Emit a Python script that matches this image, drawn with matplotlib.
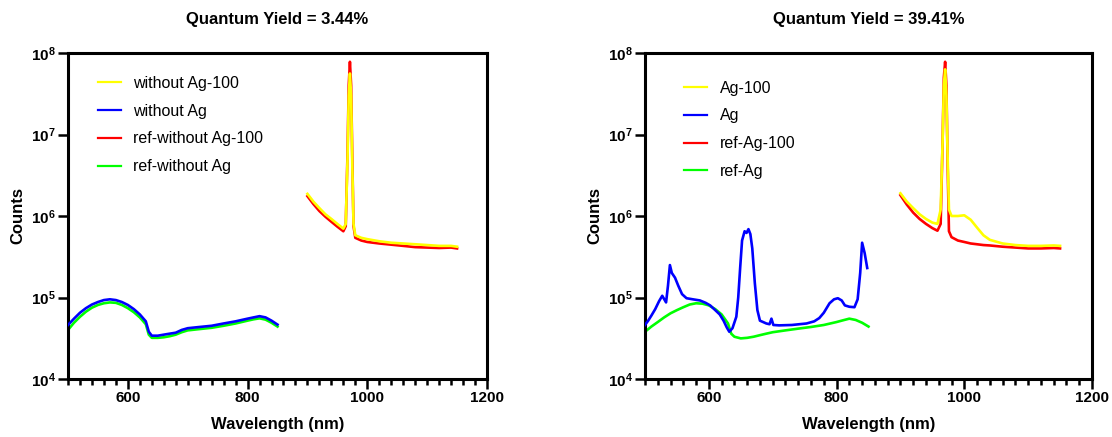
import math
import matplotlib
matplotlib.use('Agg')
import matplotlib.pyplot as plt
from matplotlib.ticker import MultipleLocator, FuncFormatter, FixedLocator

plt.rcParams['font.family'] = ['Liberation Sans', 'DejaVu Sans']
plt.rcParams['mathtext.fontset'] = 'custom'
plt.rcParams['mathtext.rm'] = 'Liberation Sans:bold'
plt.rcParams['mathtext.bf'] = 'Liberation Sans:bold'

# ---- data ----
# visible range, 500-850 nm
wl_vis = [500, 510, 520, 530, 540, 550, 560, 570, 580, 590, 600, 610, 620, 630, 635,
          640, 650, 660, 670, 680, 690, 700, 720, 740, 760, 780, 800, 810, 820, 830,
          840, 850]
without_ag = [46000, 55000, 65000, 74000, 82000, 88000, 93000, 95000, 93000, 88000,
              81000, 72000, 62000, 51000, 38000, 34000, 34000, 35000, 36000, 37000,
              40000, 42000, 43500, 45000, 48000, 51000, 55000, 57000, 59000, 57000,
              52000, 46500]
ref_without_ag = [40000, 49000, 58000, 67000, 75000, 81000, 85000, 87000, 86000, 81000,
                  74000, 66000, 57000, 47000, 35000, 32000, 32000, 32500, 33500, 35000,
                  37500, 39500, 41000, 42500, 45000, 48000, 52000, 54000, 55500, 53500,
                  49000, 44000]
ref_ag = [38000, 44000, 50000, 57000, 64000, 70000, 76000, 82000, 85000, 84000,
          80000, 72000, 62000, 48000, 36000, 33000, 31500, 32000, 33000, 34500,
          36000, 37500, 39500, 41500, 43500, 46000, 50000, 52500, 55000, 53000,
          49000, 44000]

# Ag sample, 500-850 nm
wl_ag = [500, 505, 510, 516, 522, 527, 533, 536, 539, 542, 547, 552, 558, 565, 575,
         586, 595, 602, 610, 617, 623, 628, 632, 637, 643, 646, 649, 652, 656, 659,
         662, 665, 668, 672, 676, 680, 690, 695, 698, 701, 710, 730, 753, 765, 773,
         780, 789, 796, 802, 808, 813, 820, 828, 833, 837, 840, 844, 848]
ag = [46000, 52000, 60000, 72000, 90000, 105000, 87000, 140000, 250000, 200000,
      175000, 140000, 110000, 98000, 95000, 92000, 86000, 80000, 70000, 62000,
      52000, 43000, 38000, 42000, 58000, 100000, 230000, 500000, 650000, 620000,
      690000, 600000, 400000, 150000, 70000, 52000, 48000, 47000, 55000, 46000,
      45500, 46000, 48000, 51000, 56000, 65000, 85000, 95000, 98000, 92000,
      80000, 77000, 76000, 95000, 200000, 470000, 350000, 230000]

# 100% range, 900-1150 nm (left panel)
wl_nir = [900, 910, 920, 930, 940, 950, 960, 964, 967, 969, 971, 973, 975, 977, 980,
          990, 1000, 1020, 1040, 1060, 1080, 1100, 1120, 1140, 1150]
without_ag_100 = [1.87e6, 1.5e6, 1.25e6, 1.05e6, 9.2e5, 8.0e5, 7.0e5, 8.0e5, 5e6, 3e7,
                  5.6e7, 3e7, 4e6, 8e5, 5.8e5, 5.4e5, 5.2e5, 4.9e5, 4.7e5, 4.6e5,
                  4.5e5, 4.4e5, 4.3e5, 4.3e5, 4.2e5]
ref_without_ag_100 = [1.75e6, 1.4e6, 1.15e6, 9.8e5, 8.5e5, 7.4e5, 6.5e5, 7.5e5, 6e6, 4e7,
                      7.8e7, 4e7, 5e6, 7.5e5, 5.4e5, 5.0e5, 4.8e5, 4.6e5, 4.45e5, 4.3e5,
                      4.15e5, 4.1e5, 4.05e5, 4.1e5, 4.0e5]

# 100% range, 900-1150 nm (right panel)
wl_nir_r = [900, 910, 920, 930, 940, 950, 958, 963, 966, 968, 970, 972, 974, 976, 980,
            990, 1000, 1010, 1020, 1030, 1040, 1060, 1080, 1100, 1120, 1140, 1150]
ag_100 = [1.9e6, 1.5e6, 1.25e6, 1.05e6, 9.2e5, 8.3e5, 8.0e5, 1.2e6, 8e6, 4e7,
          6.3e7, 3e7, 5e6, 1.2e6, 1.0e6, 1.0e6, 1.02e6, 9.0e5, 7.2e5, 5.8e5,
          5.1e5, 4.6e5, 4.4e5, 4.3e5, 4.3e5, 4.35e5, 4.3e5]
ref_ag_100 = [1.8e6, 1.38e6, 1.1e6, 9.2e5, 8.0e5, 7.1e5, 6.6e5, 8e5, 8e6, 5e7,
              7.8e7, 4e7, 4e6, 6.5e5, 5.5e5, 5.0e5, 4.8e5, 4.6e5, 4.5e5, 4.4e5,
              4.35e5, 4.2e5, 4.1e5, 4.0e5, 4.0e5, 4.05e5, 4.0e5]

titles = ['Quantum Yield = 3.44%', 'Quantum Yield = 39.41%']
labels_left = ['without Ag-100', 'without Ag', 'ref-without Ag-100', 'ref-without Ag']
labels_right = ['Ag-100', 'Ag', 'ref-Ag-100', 'ref-Ag']
colors = ['#ffff00', '#0000ff', '#ff0000', '#00ff00']

fig = plt.figure(figsize=(11.12, 4.37), dpi=100)
ax1 = fig.add_axes([68 / 1112, 58 / 437, 419 / 1112, 326 / 437])
ax2 = fig.add_axes([645 / 1112, 58 / 437, 447 / 1112, 326 / 437])

panels = [
    (ax1, titles[0], labels_left, (wl_nir, without_ag_100), (wl_vis, without_ag),
     (wl_nir, ref_without_ag_100), (wl_vis, ref_without_ag), (0.072, 0.93)),
    (ax2, titles[1], labels_right, (wl_nir_r, ag_100), (wl_ag, ag),
     (wl_nir_r, ref_ag_100), (wl_vis, ref_ag), (0.088, 0.915)),
]

for ax, title, labels, s1, s2, s3, s4, leg_pos in panels:
    zs = [4, 3, 2, 1]
    for (x, y), lab, c, z in zip([s1, s2, s3, s4], labels, colors, zs):
        ax.plot(x, y, color=c, lw=1.9, label=lab, zorder=z)

    ax.set_yscale('log')
    ax.set_ylim(1e4, 1e8)
    ax.set_xlim(500, 1200)
    ax.yaxis.set_major_locator(FixedLocator([1e4, 1e5, 1e6, 1e7, 1e8]))
    ax.yaxis.set_minor_locator(FixedLocator([]))
    ax.yaxis.set_major_formatter(FuncFormatter(lambda v, p: r'$\mathbf{10^{%d}}$' % round(math.log10(v))))
    ax.xaxis.set_major_locator(FixedLocator([600, 800, 1000, 1200]))
    ax.xaxis.set_minor_locator(MultipleLocator(20))

    for sp in ax.spines.values():
        sp.set_linewidth(2.2)
    ax.tick_params(axis='both', which='major', direction='out', length=7, width=1.8,
                   labelsize=11, pad=2)
    ax.tick_params(axis='x', which='minor', direction='out', length=4.5, width=1.8)
    for lab in ax.get_xticklabels():
        lab.set_fontweight('bold')

    ax.set_title(title, fontsize=12, fontweight='bold', pad=21)
    ax.set_xlabel('Wavelength (nm)', fontsize=12, fontweight='bold', labelpad=8)
    ax.set_ylabel('Counts', fontsize=12, fontweight='bold', labelpad=4)

    leg = ax.legend(loc='upper left', bbox_to_anchor=leg_pos, frameon=False,
                    fontsize=11.5, handlelength=1.45, handletextpad=0.75,
                    labelspacing=0.8, borderpad=0, borderaxespad=0)
    for h in leg.get_lines():
        h.set_linewidth(1.6)

fig.savefig('out.png', dpi=100)
